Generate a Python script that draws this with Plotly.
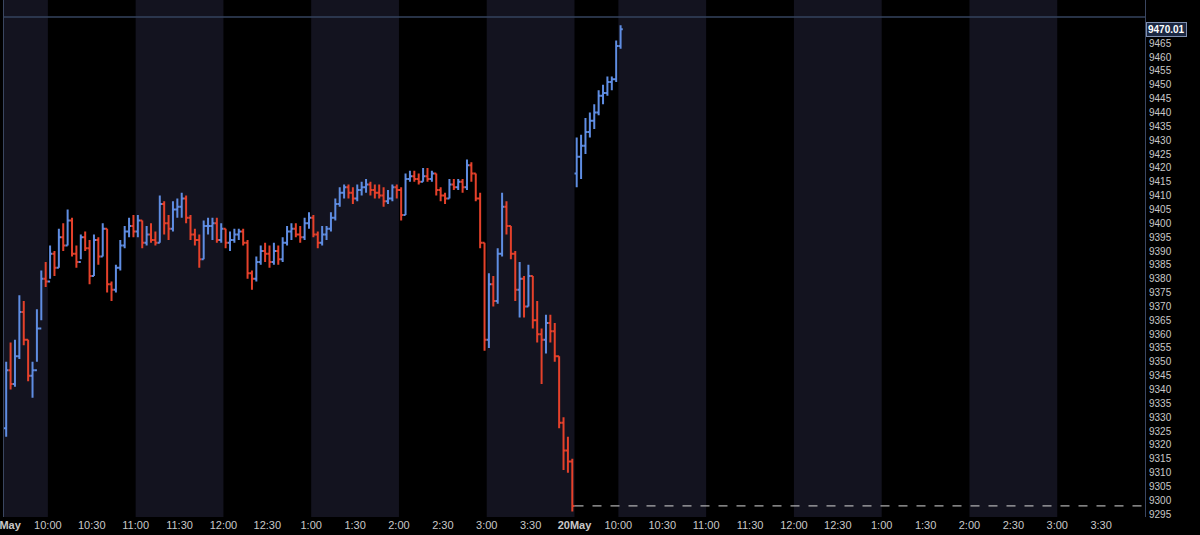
import plotly.graph_objects as go

# ---- data (3-minute bars) ----
day1_high = [9350, 9357, 9358, 9374, 9372, 9358, 9350, 9369, 9383, 9386,
             9392, 9390, 9398, 9400, 9405, 9402, 9392, 9396, 9397, 9394,
             9396, 9395, 9400, 9398, 9379, 9385, 9394, 9399, 9402, 9403,
             9403, 9401, 9399, 9400, 9397, 9410, 9408, 9403, 9408, 9409,
             9411, 9410, 9403, 9398, 9396, 9401, 9402, 9402, 9402, 9400,
             9398, 9397, 9398, 9398, 9398, 9394, 9383, 9388, 9392, 9393,
             9392, 9393, 9392, 9395, 9399, 9400, 9400, 9399, 9402, 9404,
             9403, 9397, 9399, 9399, 9404, 9409, 9413, 9414, 9414, 9413,
             9414, 9415, 9416, 9415, 9414, 9414, 9413, 9412, 9414, 9414,
             9413, 9418, 9419, 9419, 9418, 9420, 9420, 9419, 9418, 9413,
             9411, 9416, 9416, 9416, 9416, 9423, 9422, 9418, 9411, 9393,
             9382, 9381, 9391, 9411, 9408, 9399, 9390, 9386, 9381, 9385,
             9381, 9372, 9362, 9367, 9367, 9364, 9352, 9330, 9323, 9315]
day1_low = [9323, 9340, 9341, 9351, 9356, 9343, 9337, 9350, 9365, 9377,
            9380, 9381, 9384, 9390, 9392, 9388, 9384, 9387, 9390, 9378,
            9381, 9385, 9388, 9375, 9372, 9375, 9383, 9391, 9395, 9395,
            9395, 9391, 9392, 9393, 9392, 9393, 9396, 9394, 9397, 9402,
            9402, 9400, 9394, 9392, 9384, 9387, 9396, 9394, 9393, 9393,
            9391, 9390, 9393, 9394, 9392, 9380, 9376, 9379, 9385, 9386,
            9384, 9385, 9385, 9386, 9392, 9394, 9395, 9393, 9394, 9398,
            9395, 9391, 9392, 9394, 9397, 9401, 9406, 9409, 9409, 9407,
            9408, 9410, 9411, 9410, 9409, 9409, 9406, 9407, 9408, 9409,
            9401, 9403, 9415, 9415, 9414, 9415, 9415, 9415, 9410, 9408,
            9407, 9409, 9412, 9412, 9411, 9412, 9415, 9408, 9391, 9354,
            9355, 9370, 9371, 9388, 9396, 9387, 9372, 9366, 9366, 9370,
            9362, 9357, 9342, 9353, 9357, 9350, 9326, 9311, 9310, 9296]
day1_close = [9347, 9342, 9352, 9368, 9358, 9345, 9347, 9362, 9380, 9379,
              9389, 9384, 9395, 9392, 9401, 9389, 9386, 9395, 9391, 9381,
              9394, 9388, 9398, 9378, 9376, 9384, 9392, 9397, 9399, 9397,
              9401, 9393, 9396, 9394, 9393, 9407, 9400, 9398, 9405, 9406,
              9409, 9402, 9396, 9394, 9387, 9399, 9399, 9400, 9394, 9398,
              9393, 9394, 9396, 9397, 9393, 9382, 9380, 9386, 9390, 9389,
              9386, 9390, 9387, 9393, 9397, 9398, 9396, 9395, 9400, 9402,
              9396, 9393, 9396, 9398, 9402, 9407, 9411, 9413, 9411, 9409,
              9412, 9413, 9414, 9412, 9411, 9410, 9408, 9409, 9413, 9412,
              9403, 9416, 9417, 9416, 9415, 9417, 9416, 9418, 9412, 9410,
              9409, 9414, 9413, 9415, 9413, 9421, 9418, 9409, 9393, 9358,
              9378, 9372, 9389, 9406, 9399, 9389, 9376, 9380, 9370, 9381,
              9365, 9360, 9358, 9364, 9361, 9352, 9328, 9318, 9314, 9298]
day1_first_open = 9326

day2_first_open = 9418
day2_high = [9431, 9432, 9438, 9440, 9443, 9448, 9450, 9453, 9453, 9466, 9471.5]
day2_low = [9413, 9416, 9425, 9431, 9434, 9439, 9443, 9446, 9448, 9451, 9463]
day2_close = [9424, 9428, 9433, 9437, 9440, 9446, 9447, 9451, 9452, 9464, 9470.01]

last_price = 9470.01
prev_close_level = 9298
upper_level = 9474.5

tick_labels = ["<b>19May</b>", "10:00", "10:30", "11:00", "11:30", "12:00", "12:30",
               "1:00", "1:30", "2:00", "2:30", "3:00", "3:30",
               "<b>20May</b>", "10:00", "10:30", "11:00", "11:30", "12:00", "12:30",
               "1:00", "1:30", "2:00", "2:30", "3:00", "3:30"]

# ---- build bars ----
BAR_MIN = 3
SESSION = 390


def build(first_open, closes, day_index):
    opens = [first_open] + closes[:-1]
    xs = [day_index * SESSION + BAR_MIN * i + BAR_MIN / 2 for i in range(len(closes))]
    return xs, opens


x1, o1 = build(day1_first_open, day1_close, 0)
x2, o2 = build(day2_first_open, day2_close, 1)

BLUE = "#5f8de2"
RED = "#e5412b"
NAVY = "#13131f"

fig = go.Figure()
fig.add_trace(go.Ohlc(
    x=x1 + x2, open=o1 + o2, high=day1_high + day2_high,
    low=day1_low + day2_low, close=day1_close + day2_close,
    increasing=dict(line=dict(color=BLUE, width=2)),
    decreasing=dict(line=dict(color=RED, width=2)),
    tickwidth=0.5, showlegend=False, hoverinfo="skip",
))

# alternating hourly bands
shapes = []
bounds = []
for d in range(2):
    base = d * SESSION
    edges = [0, 30, 90, 150, 210, 270, 330, 390]
    for a, b in zip(edges[:-1], edges[1:]):
        bounds.append((base + a, base + b))
for k, (a, b) in enumerate(bounds):
    if k % 2 == 0:
        shapes.append(dict(type="rect", xref="x", yref="paper", x0=a, x1=b, y0=0, y1=1,
                           fillcolor=NAVY, line=dict(width=0), layer="below"))

shapes.append(dict(type="line", xref="paper", yref="y", x0=0, x1=1,
                   y0=upper_level, y1=upper_level,
                   line=dict(color="#34435e", width=1.5)))
shapes.append(dict(type="line", xref="x", yref="y", x0=SESSION, x1=2 * SESSION,
                   y0=prev_close_level, y1=prev_close_level,
                   line=dict(color="#d8d8d8", width=1, dash="dash")))

fig.update_layout(
    width=1200, height=535,
    margin=dict(l=4, r=55, t=0, b=18),
    paper_bgcolor="#000000", plot_bgcolor="#000000",
    font=dict(family="Liberation Sans, Arial, sans-serif", color="#c8c8c8", size=10),
    shapes=shapes,
    xaxis=dict(
        range=[0, 2 * SESSION],
        tickvals=[30 * i for i in range(len(tick_labels))],
        ticktext=tick_labels,
        ticklabeloverflow="allow",
        automargin=False,
        showgrid=False, zeroline=False, ticks="",
        rangeslider=dict(visible=False),
        tickfont=dict(size=11, color="#c8c8c8"),
        showline=False,
        ticklabelstandoff=0,
    ),
    yaxis=dict(
        side="right",
        range=[9294.0, 9480.6],
        tickvals=list(range(9295, 9470, 5)),
        automargin=False,
        showgrid=False, zeroline=False, ticks="",
        showline=True, linecolor="#3a4660", linewidth=1, mirror=True,
        tickfont=dict(size=10, color="#c8c8c8"),
        ticklabelstandoff=1,
    ),
    annotations=[dict(
        xref="paper", yref="y", x=1, y=last_price, xanchor="left", yanchor="middle",
        xshift=1, text="<b>%.2f</b>" % last_price, showarrow=False,
        font=dict(size=10, color="#ffffff", family="Liberation Sans, Arial, sans-serif"),
        bgcolor="#1c2842", bordercolor="#7f8fb0", borderwidth=1, borderpad=1,
    )],
)

fig.write_html(
    "out.html",
    config={"displayModeBar": False},
    post_script="document.body.style.margin='0px';document.body.style.background='#000';",
)
